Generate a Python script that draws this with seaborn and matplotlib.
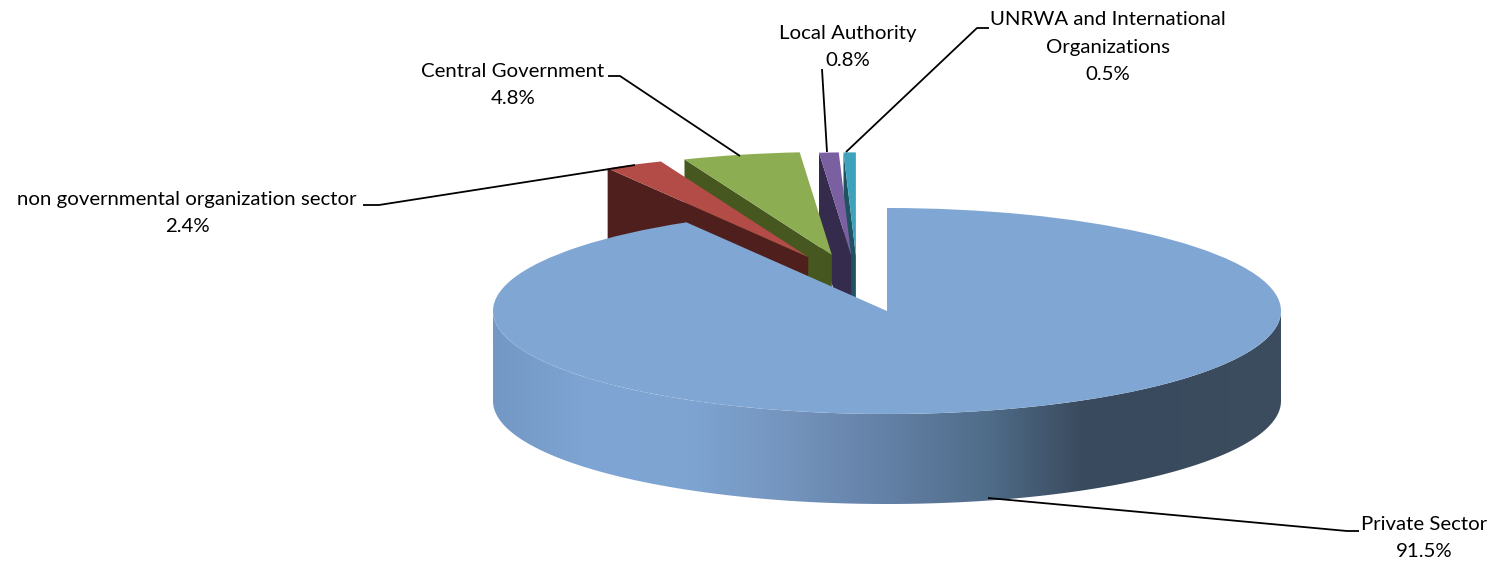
import numpy as np
import seaborn as sns
import matplotlib.pyplot as plt
from matplotlib.patches import Polygon

sectors = ['Private Sector', 'non governmental organization sector', 'Central Government',
           'Local Authority', 'UNRWA and International\nOrganizations']
shares = [91.5, 2.4, 4.8, 0.8, 0.5]

top_colors = ['#80a6d4', '#b34b47', '#8cad52', '#7a5fa1', '#3fa2bd']
wall_colors = ['#80a6d4', '#4f1f1e', '#46571f', '#352b4d', '#1f5362']
# left to right along the outer wall of the big slice
wall_gradient = ['#7398c5', '#7fa5d4', '#7ea4d2', '#7494bd', '#6380a6', '#506d8a', '#3a4a5e', '#3b4b5e', '#3d4d60']

# how far each small slice is pulled out, in pie radii (x, y)
offsets = [(0, 0), (-0.20, 0.524), (-0.14, 0.544), (-0.091, 0.54), (-0.079, 0.54)]
depth = 90 / 103

# pixel geometry of the pie on the 1493x562 canvas
W, H = 1493, 562
cx, cy, rx, ry = 887, 311, 394, 103


def px(x, y):
    return (x - cx) / rx, (cy - y) / ry


sns.set_theme(style='white')
plt.rcParams['font.family'] = ['Lato', 'DejaVu Sans']

fig = plt.figure(figsize=(W / 100, H / 100), dpi=100)
ax = fig.add_axes([0, 0, 1, 1])

wedges, _ = ax.pie(shares, colors=top_colors, startangle=90, counterclock=False,
                   wedgeprops={'linewidth': 0})

# draw back to front: rightmost small slice first, the big slice last
draw_order = [4, 3, 2, 1, 0]
for rank, i in enumerate(draw_order):
    w = wedges[i]
    w.set_center(offsets[i])
    w.set_zorder(2 * rank + 2)
    if i == 0:
        continue
    ox, oy = offsets[i]
    t = np.deg2rad(w.theta2)
    ex, ey = ox + np.cos(t), oy + np.sin(t)
    wall = Polygon([(ox, oy), (ex, ey), (ex, ey - depth), (ox, oy - depth)],
                   closed=True, facecolor=wall_colors[i], edgecolor='none', zorder=2 * rank + 1)
    ax.add_patch(wall)

# outer wall of the big slice, shaded from left to right
t = np.linspace(np.pi, 2 * np.pi, 240)
outline = np.r_[np.c_[np.cos(t), np.sin(t)], np.c_[np.cos(t[::-1]), np.sin(t[::-1]) - depth]]
clip = Polygon(outline, closed=True, facecolor='none', edgecolor='none', zorder=8)
ax.add_patch(clip)
shade = np.array(sns.blend_palette(wall_gradient, 256))[None, :, :]
im = ax.imshow(shade, extent=(-1, 1, -1 - depth, 0), aspect='auto', interpolation='bilinear', zorder=8)
im.set_clip_path(clip)
wedges[0].set_zorder(10)

ax.set_aspect('auto')
ax.set_xlim(px(0, 0)[0], px(W, 0)[0])
ax.set_ylim(px(0, H)[1], px(0, 0)[1])
ax.axis('off')

# leader lines, in pixels
leaders = [
    [(988, 498), (1347, 531), (1359, 531)],
    [(635, 165), (379, 205), (363, 205)],
    [(740, 156), (620, 76), (608, 76)],
    [(827, 152), (822, 69)],
    [(846, 152), (977, 28), (989, 28)],
]
for pts in leaders:
    xs, ys = zip(*[px(*p) for p in pts])
    ax.plot(xs, ys, color='black', lw=1.3, zorder=12, solid_capstyle='butt')

# label centres, in pixels
label_pos = [(1424, 538), (187, 213), (513, 85), (848, 47), (1108, 47)]
for name, share, pos in zip(sectors, shares, label_pos):
    x, y = px(*pos)
    ax.text(x, y, f'{name}\n{share}%', ha='center', va='center', fontsize=14.7,
            color='black', linespacing=1.72, zorder=13)

fig.savefig('out.png', dpi=100)
